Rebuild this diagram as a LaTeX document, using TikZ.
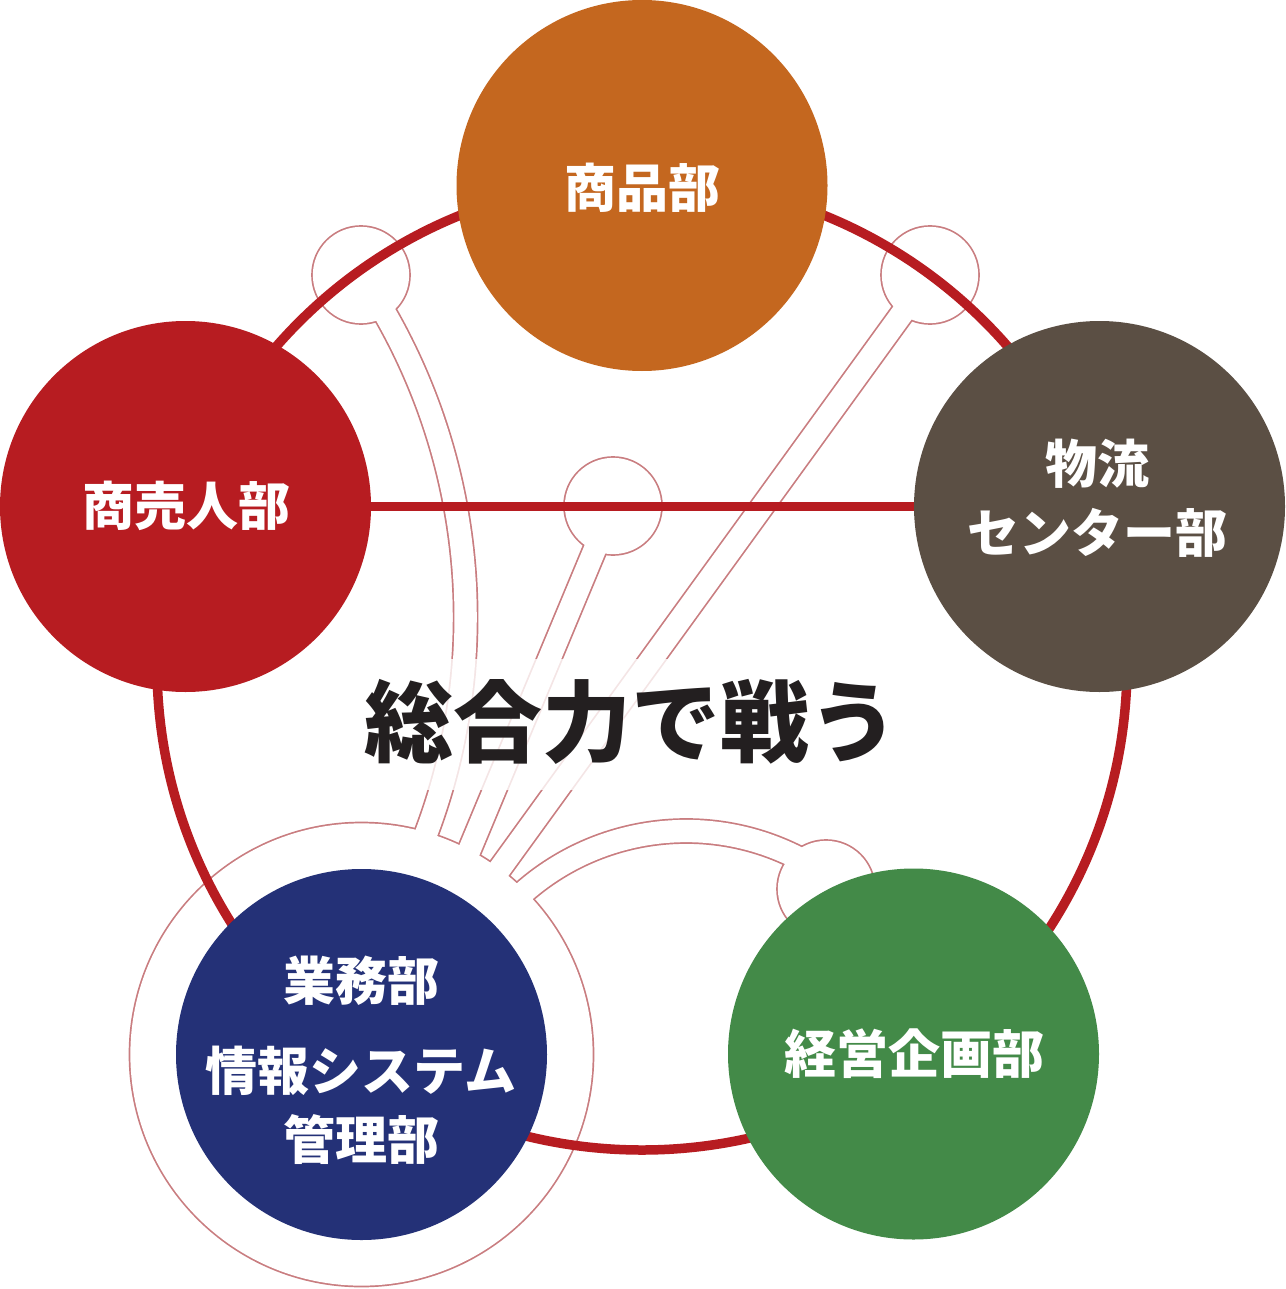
\documentclass[tikz,border=0pt]{standalone}
\usepackage{fontspec}
\newfontfamily\jp{Noto Sans CJK JP}
\definecolor{cOrange}{HTML}{C4671F}
\definecolor{cRed}{HTML}{B71C21}
\definecolor{cBrown}{HTML}{5B4F44}
\definecolor{cNavy}{HTML}{243177}
\definecolor{cGreen}{HTML}{438A48}
\definecolor{cPink}{HTML}{C97D80}
\definecolor{cText}{HTML}{231F20}
\begin{document}
\begin{tikzpicture}[x=1pt,y=-1pt,
  disc/.style={circle, inner sep=0pt, minimum size=371pt, draw=none},
  lbl/.style={font=\jp\bfseries\fontsize{52}{69}\selectfont, text=white, align=center, inner sep=0pt},
  redline/.style={draw=cRed, line width=9.5pt},
]
\fill[white] (0,0) rectangle (1285,1289);
\useasboundingbox (0,0) rectangle (1285,1289);
% anchor points of the pink outline network
\coordinate (tl) at (361,275);
\coordinate (tr) at (930,275);
\coordinate (cm) at (613,506);
\coordinate (gr) at (826,889);
\coordinate (nvc) at (361.5,1054.5);
\coordinate (tubeBend) at (459,875);
\coordinate (tubeCend) at (472,907);
\coordinate (greenStart) at ([shift={(-140:246)}]686,1077);
% union outline: pink pass then white pass
\foreach \col/\sr/\br/\tw in {cPink/49.85/232.85/25.7pt, white/48.15/231.15/22.3pt}{
  \fill[\col] (tl) circle[radius=\sr] (tr) circle[radius=\sr] (cm) circle[radius=\sr]
              (gr) circle[radius=\sr] (nvc) circle[radius=\br];
  \draw[\col, line width=\tw] (tl) arc[start angle=-34, end angle=24, radius=612];
  \draw[\col, line width=\tw] (cm) -- (tubeBend);
  \draw[\col, line width=\tw] (tr) -- (tubeCend);
  \draw[\col, line width=\tw] (greenStart) arc[start angle=-140, end angle=-53, radius=246];
}
% fade behind the title
\fill[white, opacity=0.8] (300,659) rectangle (900,790);
% red ring
\coordinate (ringc) at (642,665);
\draw[redline] (ringc) circle[radius=485];
% discs
\node[disc, fill=cOrange] (shohin) at (642,185.5) {};
\node[disc, fill=cRed] (shobai) at (185.5,506.5) {};
\node[disc, fill=cBrown] (butsu) at (1099.5,506.5) {};
\node[disc, fill=cNavy] (gyomu) at (361.5,1054.5) {};
\node[disc, fill=cGreen] (keiei) at (913.5,1054) {};
\draw[redline] (shobai) -- (butsu);
% labels
\node[lbl] (t1) at (642,188) {商品部};
\node[lbl] (t2) at (186,506) {商売人部};
\node[lbl] (t3) at (1097.5,498.5) {物流\\センター部};
\node[lbl] (t4) at (914,1054) {経営企画部};
\node[lbl] (t5) at (361,1060) {業務部\\[21pt]情報システム\\管理部};
\node[font=\jp\bfseries\fontsize{89}{89}\selectfont, text=cText, inner sep=0pt] (title) at (631,722) {総合力で戦う};
\end{tikzpicture}
\end{document}
